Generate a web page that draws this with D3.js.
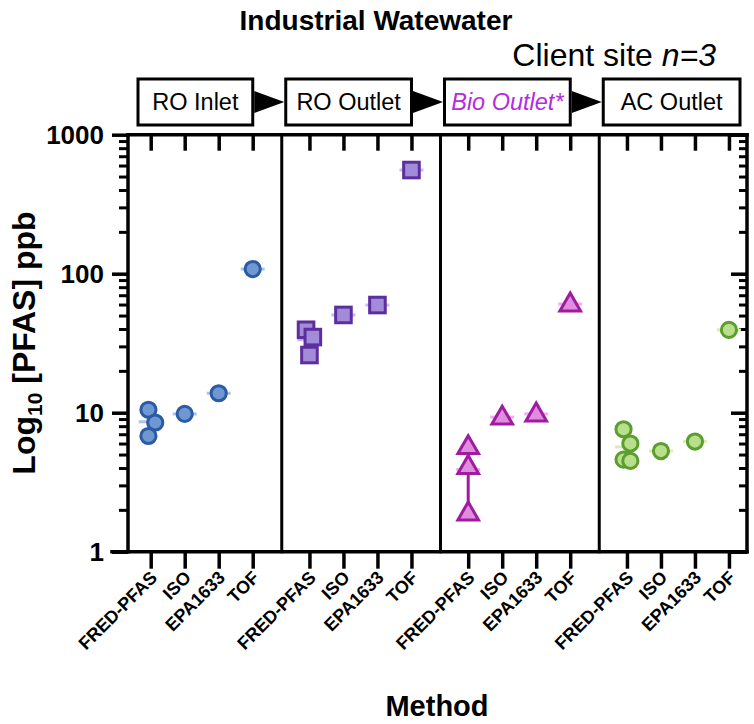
<!DOCTYPE html>
<html>
<head>
<meta charset="utf-8">
<script src="https://cdn.jsdelivr.net/npm/d3@7"></script>
<style>
body{margin:0;background:#fff;}
svg{font-family:"Liberation Sans",Arial,sans-serif;}
</style>
</head>
<body>
<svg id="chart" width="754" height="724"></svg>
<script>
// data (ppb)
var panels=["RO Inlet","RO Outlet","Bio Outlet*","AC Outlet"];
var methods=["FRED-PFAS","ISO","EPA1633","TOF"];
var roInlet=[[10.5,8.5,6.8],[9.8],[13.8],[108]];
var roOutlet=[[39.5,35,26],[50.5],[59.5],[557]];
var bioOutlet=[[5.7,4.1,1.9],[9.3],[9.8],[60.5]];
var acOutlet=[[7.6,6.0,4.6,4.5],[5.3],[6.2],[39.4]];
var yTicks=[1,10,100,1000];

var series=[
    {values:roInlet, shape:'circle', fill:'#6f98d2', stroke:'#2b5ba6', meanColor:'#a9c3ea'},
    {values:roOutlet, shape:'square', fill:'#a48bd8', stroke:'#5b2f9e', meanColor:'#c8b8ee'},
    {values:bioOutlet, shape:'triangle', fill:'#e08de0', stroke:'#a01ba0', meanColor:'#f0b0f0'},
    {values:acOutlet, shape:'circle', fill:'#b8e08c', stroke:'#5c9e2e', meanColor:'#d6eeb4'}
];

var svg=d3.select('#chart');
var leftX=128, rightX=747;

var y=d3.scaleLog().domain([1,1000]).range([551.7,134.7]);
var xPanel=d3.scaleBand().domain(panels).range([123,758]);
var xMethod=d3.scalePoint().domain(methods).range([27.7,129.7]);
function xPos(p,m){ return xPanel(p)+xMethod(m); }

// ordinal scale of every tick slot, used by the axes
var slots=[];
panels.forEach(function(p){ methods.forEach(function(m){ slots.push(p+'|'+m); }); });
var xSlot=d3.scaleOrdinal().domain(slots).range(slots.map(function(s){
    var k=s.split('|'); return xPos(k[0],k[1]);
}));

var minor=[];
for(var e=0;e<3;e++) for(var k=2;k<10;k++) minor.push(k*Math.pow(10,e));

function styleAxis(g,w){
    g.select('.domain').remove();
    g.selectAll('.tick line').attr('stroke','#000').attr('stroke-width',w);
}

// left axis
svg.append('g').attr('transform','translate('+leftX+',0)')
    .call(d3.axisLeft(y).tickValues(minor).tickSize(9).tickFormat(''))
    .call(styleAxis,3);
svg.append('g').attr('transform','translate('+leftX+',0)')
    .call(d3.axisLeft(y).tickValues(yTicks).tickSize(16).tickPadding(8).tickFormat(d3.format('d')))
    .call(styleAxis,3.5)
    .selectAll('text')
        .attr('font-size',26).attr('font-weight','bold').attr('fill','#000');

// right axis, ticks inward
svg.append('g').attr('transform','translate('+rightX+',0)')
    .call(d3.axisLeft(y).tickValues(minor).tickSize(8).tickFormat(''))
    .call(styleAxis,3);
svg.append('g').attr('transform','translate('+rightX+',0)')
    .call(d3.axisLeft(y).tickValues(yTicks).tickSize(16).tickFormat(''))
    .call(styleAxis,3.5);

// top ticks (inward)
svg.append('g').attr('transform','translate(0,'+y(1000)+')')
    .call(d3.axisBottom(xSlot).tickSize(16).tickFormat(''))
    .call(styleAxis,3.5);

// bottom axis
var bottom=svg.append('g').attr('transform','translate(0,'+y(1)+')')
    .call(d3.axisBottom(xSlot).tickSize(17).tickFormat(function(s){ return s.split('|')[1]; }))
    .call(styleAxis,3.5);
bottom.selectAll('.tick text')
    .attr('font-size',18).attr('font-weight','bold').attr('fill','#000')
    .attr('text-anchor','end')
    .attr('dy',null)
    .attr('y',0)
    .attr('transform','translate(7,27) rotate(-45)');

// frame lines
var frame=svg.append('g').attr('stroke','#000').attr('stroke-linecap','square');
frame.append('line').attr('x1',leftX).attr('x2',rightX).attr('y1',y(1000)).attr('y2',y(1000)).attr('stroke-width',3.5);
frame.append('line').attr('x1',112).attr('x2',rightX).attr('y1',y(1)).attr('y2',y(1)).attr('stroke-width',3.5);
frame.append('line').attr('x1',leftX).attr('x2',leftX).attr('y1',y(1000)).attr('y2',y(1)).attr('stroke-width',3.5);
frame.append('line').attr('x1',rightX).attr('x2',rightX).attr('y1',y(1000)).attr('y2',y(1)).attr('stroke-width',3.5);
panels.slice(1).forEach(function(p){
    frame.append('line').attr('x1',xPanel(p)).attr('x2',xPanel(p))
        .attr('y1',y(1000)).attr('y2',y(1)).attr('stroke-width',3);
});

// spread overlapping points sideways, like a column scatter
function spread(vals,diam,step){
    var order=vals.map(function(v,i){return i;}).sort(function(a,b){return vals[b]-vals[a];});
    var off=vals.map(function(){return 0;});
    var chains=[], cur=[];
    order.forEach(function(i,j){
        if(j>0 && Math.abs(y(vals[i])-y(vals[order[j-1]]))<diam) cur.push(i);
        else { if(cur.length) chains.push(cur); cur=[i]; }
    });
    if(cur.length) chains.push(cur);
    chains.forEach(function(c){
        if(c.length<2) return;
        var cols=c.map(function(i,k){return k%2;});
        var mean=d3.mean(cols);
        c.forEach(function(i,k){ off[i]=(cols[k]-mean)*step; });
    });
    return off;
}

var step=xMethod.step();
var plot=svg.append('g');
series.forEach(function(s,pi){
    var p=panels[pi];
    s.values.forEach(function(vals,mi){
        var cx=xPos(p,methods[mi]);
        var mean=d3.mean(vals);
        if(vals.length>1){
            var sd=d3.deviation(vals);
            plot.append('line')
                .attr('x1',cx).attr('x2',cx)
                .attr('y1',y(mean+sd)).attr('y2',y(Math.max(mean-sd,1)))
                .attr('stroke',s.stroke).attr('stroke-width',3);
        }
        plot.append('line')
            .attr('x1',cx-12).attr('x2',cx+12)
            .attr('y1',y(mean)).attr('y2',y(mean))
            .attr('stroke',s.meanColor).attr('stroke-width',3);
        var off=spread(vals,17,step*0.2);
        vals.forEach(function(v,i){
            var px=cx+off[i], py=y(v);
            var m;
            if(s.shape=='circle'){
                m=plot.append('circle').attr('cx',px).attr('cy',py).attr('r',7.6);
            } else if(s.shape=='square'){
                m=plot.append('rect').attr('x',px-7.8).attr('y',py-7.8).attr('width',15.6).attr('height',15.6);
            } else {
                m=plot.append('path').attr('transform','translate('+px+','+(py+1)+')')
                    .attr('d',d3.symbol(d3.symbolTriangle,185)());
            }
            m.attr('fill',s.fill).attr('stroke',s.stroke).attr('stroke-width',3);
        });
    });
});

// axis titles
var yt=svg.append('text').attr('transform','translate(35,343) rotate(-90)')
    .attr('text-anchor','middle').attr('font-size',32).attr('font-weight','bold');
yt.append('tspan').text('Log');
yt.append('tspan').attr('font-size',21).attr('dy',7).text('10');
yt.append('tspan').attr('dy',-7).text(' [PFAS] ppb');

svg.append('text').attr('x',437).attr('y',716).attr('text-anchor','middle')
    .attr('font-size',29).attr('font-weight','bold').text('Method');

// titles
svg.append('text').attr('x',376).attr('y',30).attr('text-anchor','middle')
    .attr('font-size',28).attr('font-weight','bold').text('Industrial Watewater');
var sub=svg.append('text').attr('x',716).attr('y',66).attr('text-anchor','end').attr('font-size',32);
sub.append('tspan').text('Client site ');
sub.append('tspan').attr('font-style','italic').text('n=3');

// process flow boxes, one above each panel, arrows between them
var boxY=79, boxH=46;
var boxes=panels.map(function(p,i){
    var x0=i==0 ? leftX+10 : xPanel(p)+4;
    var x1=i==panels.length-1 ? rightX-7 : xPanel(p)+xPanel.bandwidth()-29;
    return {name:p, x0:x0, x1:x1};
});
boxes.forEach(function(b,i){
    var g=svg.append('g');
    g.append('rect').attr('x',b.x0).attr('y',boxY).attr('width',b.x1-b.x0).attr('height',boxH)
        .attr('fill','#fff').attr('stroke','#000').attr('stroke-width',3);
    var t=g.append('text').attr('x',(b.x0+b.x1)/2).attr('y',boxY+boxH/2).attr('dy','0.36em')
        .attr('text-anchor','middle').attr('font-size',23.5).text(b.name);
    if(b.name=='Bio Outlet*') t.attr('fill','#b52ce0').attr('font-style','italic');
    if(i<boxes.length-1){
        var cy=boxY+boxH/2, ax0=b.x1+1.5, ax1=boxes[i+1].x0-1.5;
        svg.append('path')
            .attr('d','M'+ax0+','+(cy-11)+'L'+ax1+','+cy+'L'+ax0+','+(cy+11)+'Z')
            .attr('fill','#000');
    }
});
</script>
</body>
</html>
